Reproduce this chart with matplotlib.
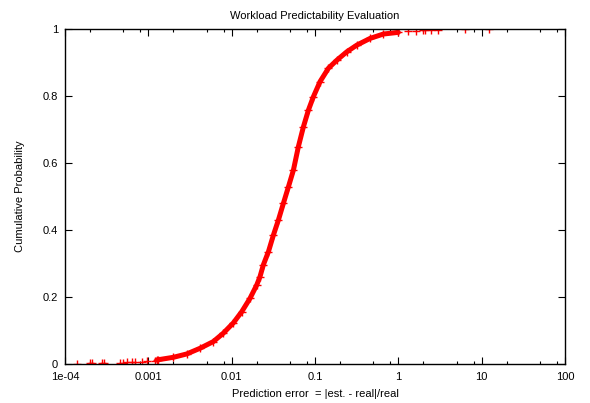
import matplotlib
matplotlib.use("Agg")
import matplotlib.pyplot as plt

# Lower tail: sparse prediction errors (x) and their cumulative probability (y)
tail_low_err = [1.4e-4, 2.0e-4, 2.1e-4, 2.8e-4, 2.9e-4, 4.6e-4, 5.0e-4, 5.5e-4,
                6.4e-4, 6.9e-4, 8.4e-4, 9.6e-4, 1.2e-3, 1.3e-3]
tail_low_cdf = [0.001, 0.002, 0.002, 0.003, 0.003, 0.004, 0.004, 0.005,
                0.006, 0.006, 0.007, 0.008, 0.010, 0.011]

# Dense body of the distribution
body_err = [0.00126, 0.00200, 0.00289, 0.00418, 0.00603, 0.00794, 0.0105,
            0.0132, 0.0166, 0.0200, 0.0219, 0.0240, 0.0276, 0.0317, 0.0364,
            0.0418, 0.0480, 0.0551, 0.0632, 0.0726, 0.0834, 0.0957, 0.115,
            0.145, 0.183, 0.241, 0.318, 0.459, 0.662, 1.0]
body_cdf = [0.012, 0.020, 0.030, 0.047, 0.067, 0.092, 0.123,
            0.156, 0.196, 0.236, 0.261, 0.296, 0.335, 0.385, 0.430,
            0.480, 0.529, 0.579, 0.649, 0.708, 0.758, 0.798, 0.843,
            0.883, 0.907, 0.932, 0.952, 0.972, 0.985, 0.990]

# Upper tail: sparse large errors
tail_high_err = [1.32, 1.64, 2.0, 2.1, 2.5, 3.0, 6.3, 12.1]
tail_high_cdf = [0.993, 0.995, 0.996, 0.997, 0.997, 0.998, 0.999, 1.0]

xtick_vals = [1e-4, 1e-3, 1e-2, 1e-1, 1, 10, 100]
xtick_labels = ["1e-04", "0.001", "0.01", "0.1", "1", "10", "100"]
ytick_vals = [0, 0.2, 0.4, 0.6, 0.8, 1]
ytick_labels = ["0", "0.2", "0.4", "0.6", "0.8", "1"]

plt.rcParams["font.family"] = ["Liberation Sans", "DejaVu Sans"]
plt.rcParams["font.size"] = 8

fig = plt.figure(figsize=(5.9, 4.03), dpi=100)
ax = fig.add_axes([65 / 590, 1 - 364 / 403, 500 / 590, 335 / 403])

# Plotting
ax.plot(body_err, body_cdf, color="red", linewidth=3.6, solid_capstyle="round",
        solid_joinstyle="round")
ax.plot(body_err, body_cdf, "+", color="red", markersize=6, markeredgewidth=1)
ax.plot(tail_low_err, tail_low_cdf, "+", color="red", markersize=6, markeredgewidth=1)
ax.plot(tail_high_err, tail_high_cdf, "+", color="red", markersize=6, markeredgewidth=1)

ax.set_xscale("log")
ax.set_xlim(1e-4, 100)
ax.set_ylim(0, 1)

minor = [m * 10.0 ** k for k in range(-4, 2) for m in (2, 5, 8)]
ax.set_xticks(xtick_vals, xtick_labels)
ax.set_xticks(minor, minor=True)
ax.set_xticklabels([], minor=True)
ax.set_yticks(ytick_vals, ytick_labels)

ax.tick_params(which="major", direction="in", length=5, width=0.8,
               top=True, right=True, pad=5)
ax.tick_params(which="minor", direction="in", length=2.5, width=0.8,
               top=True, right=False, left=False)
ax.tick_params(axis="x", which="major", pad=6)

for s in ax.spines.values():
    s.set_linewidth(1.0)
    s.set_color("black")

ax.set_title("Workload Predictability Evaluation", fontsize=8, pad=7)
ax.set_xlabel("Prediction error  = |est. - real|/real", fontsize=8, labelpad=5)
ax.set_ylabel("Cumulative Probability", fontsize=8, labelpad=12.5)

fig.savefig("out.png", dpi=100)
plt.close(fig)
